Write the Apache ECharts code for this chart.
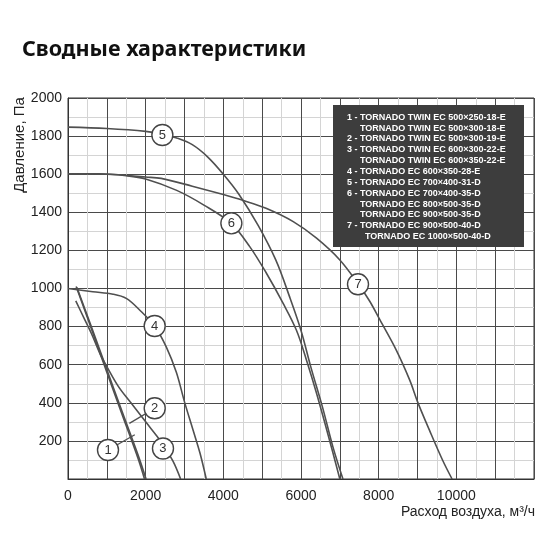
<!DOCTYPE html>
<html>
<head>
<meta charset="utf-8">
<script src="https://cdn.jsdelivr.net/npm/echarts@6/dist/echarts.min.js"></script>
<style>
html,body{margin:0;padding:0;background:#fff;}
#chart{width:550px;height:550px;}
</style>
</head>
<body>
<div id="chart"></div>
<script>
// ---- Data ----
var titleText = 'Сводные характеристики';
var yAxisName = 'Давление, Па';
var xAxisName = 'Расход воздуха, м³/ч';

var curve1 = [[210,1010],[600,790],[1000,560],[1400,335],[1800,110],[1970,0]];
var curve2 = [[230,1005],[600,800],[1000,575],[1400,350],[1800,128],[2010,0]];
var curve3 = [[200,935],[400,850],[600,765],[840,650],[1000,590],[1300,485],[1600,405],[2000,300],[2400,195],[2700,95],[2900,0]];
var curve4 = [[0,1000],[640,983],[1160,970],[1500,948],[1850,886],[2230,802],[2530,694],[2790,560],[3000,405],[3220,257],[3400,135],[3560,0]];
var curve5 = [[0,1847],[1000,1840],[2000,1825],[2430,1810],[2800,1790],[3200,1755],[3600,1690],[4000,1600],[4400,1495],[4900,1330],[5350,1150],[5700,960],[6000,780],[6250,590],[6550,380],[6820,170],[7080,0]];
var curve6 = [[0,1602],[800,1602],[1500,1592],[2000,1575],[2800,1515],[3500,1438],[4200,1342],[4680,1220],[5110,1080],[5540,922],[5880,782],[6140,625],[6400,450],[6700,230],[7000,0]];
var curve7 = [[0,1602],[1000,1600],[2000,1585],[2400,1578],[3200,1537],[4000,1493],[4500,1463],[5100,1421],[5800,1351],[6400,1264],[7000,1150],[7470,1025],[7770,933],[8030,836],[8450,678],[8800,519],[9010,401],[9310,255],[9650,97],[9890,0]];

var leader1 = [[1030,152],[1720,232]];
var leader2 = [[2233,371],[1580,292]];

var curveLabels = [[1030,152,'1'],[2233,371,'2'],[2446,160,'3'],[2232,803,'4'],[2430,1806,'5'],[4207,1342,'6'],[7468,1022,'7']];

var legendLines = [
  ['1 - TORNADO TWIN EC 500×250-18-E', 0],
  ['TORNADO TWIN EC 500×300-18-E', 1],
  ['2 - TORNADO TWIN EC 500×300-19-E', 0],
  ['3 - TORNADO TWIN EC 600×300-22-E', 0],
  ['TORNADO TWIN EC 600×350-22-E', 1],
  ['4 - TORNADO EC 600×350-28-E', 0],
  ['5 - TORNADO EC 700×400-31-D', 0],
  ['6 - TORNADO EC 700×400-35-D', 0],
  ['TORNADO EC 800×500-35-D', 1],
  ['TORNADO EC 900×500-35-D', 1],
  ['7 - TORNADO EC 900×500-40-D', 0],
  ['TORNADO EC 1000×500-40-D', 2]
];

var xMin = 0, xMax = 12000, xStep = 1000;
var yMin = 0, yMax = 2000, yStep = 200;

// ---- Chart ----
var chart = echarts.init(document.getElementById('chart'), null, {renderer:'canvas'});
var lineColor = '#505050';
function curveSeries(d){
  return {type:'line', data:d, smooth:0.35, showSymbol:false, symbol:'none',
    lineStyle:{color:lineColor, width:1.6}, z:3, silent:true};
}
function leaderSeries(d){
  return {type:'line', data:d, smooth:false, showSymbol:false, symbol:'none',
    lineStyle:{color:lineColor, width:1.3}, z:3, silent:true};
}
var legendGraphics = [{
  type:'rect', shape:{x:333, y:105, width:191, height:142},
  style:{fill:'#3d3d3d'}, z:10
}];
var offs = [347, 360, 365];
legendLines.forEach(function(l, i){
  legendGraphics.push({
    type:'text', x: offs[l[1]], y: 117.3 + i*10.85, z:11,
    style:{text:l[0], fill:'#ffffff', font:'bold 9px "Liberation Sans", Arial, sans-serif', textVerticalAlign:'middle', textAlign:'left'}
  });
});

var option = {
  backgroundColor:'#ffffff',
  animation:false,
  grid:{left:68, right:16, top:98, bottom:71, show:true, borderColor:'#333', borderWidth:1, backgroundColor:'transparent'},
  xAxis:{type:'value', min:xMin, max:xMax, interval:xStep,
    axisLine:{show:true, lineStyle:{color:'#333', width:1}},
    axisTick:{show:false},
    minorTick:{show:false, splitNumber:2},
    splitLine:{show:true, lineStyle:{color:'#4a4a4a', width:1}},
    minorSplitLine:{show:true, lineStyle:{color:'#d4d4d4', width:1}},
    axisLabel:{show:true, margin:10, color:'#222', fontSize:14, fontFamily:'"Liberation Sans", Arial, sans-serif',
      formatter:function(v){ return (v % 2000 === 0 && v < xMax) ? String(v) : ''; }, showMaxLabel:true}
  },
  yAxis:{type:'value', min:yMin, max:yMax, interval:yStep,
    axisLine:{show:true, lineStyle:{color:'#333', width:1}},
    axisTick:{show:false},
    minorTick:{show:false, splitNumber:2},
    splitLine:{show:true, lineStyle:{color:'#4a4a4a', width:1}},
    minorSplitLine:{show:true, lineStyle:{color:'#d4d4d4', width:1}},
    axisLabel:{show:true, margin:6, color:'#222', fontSize:14, fontFamily:'"Liberation Sans", Arial, sans-serif',
      formatter:function(v){ return v === 0 ? '' : String(v); }}
  },
  series:[
    curveSeries(curve1), curveSeries(curve2), curveSeries(curve3), curveSeries(curve4),
    curveSeries(curve5), curveSeries(curve6), curveSeries(curve7),
    leaderSeries(leader1), leaderSeries(leader2),
    {type:'scatter', data:curveLabels, symbol:'circle', symbolSize:21, z:5, silent:true,
      itemStyle:{color:'#ffffff', borderColor:'#444', borderWidth:1.4, opacity:1},
      label:{show:true, position:'inside', color:'#333', fontSize:13, fontFamily:'"Liberation Sans", Arial, sans-serif',
        formatter:function(p){ return p.data[2]; }}
    }
  ],
  graphic:[
    {type:'text', x:22, y:50, style:{text:titleText, fill:'#111', font:'bold 21.5px "Noto Sans", "Open Sans", sans-serif', textVerticalAlign:'middle'}},
    {type:'text', x:20, y:145, rotation:Math.PI/2, style:{text:yAxisName, fill:'#222', font:'15px "Liberation Sans", Arial, sans-serif', textAlign:'center', textVerticalAlign:'middle'}},
    {type:'text', x:535, y:512, style:{text:xAxisName, fill:'#222', font:'14px "Liberation Sans", Arial, sans-serif', textAlign:'right', textVerticalAlign:'middle'}}
  ].concat(legendGraphics)
};
chart.setOption(option);
</script>
</body>
</html>
